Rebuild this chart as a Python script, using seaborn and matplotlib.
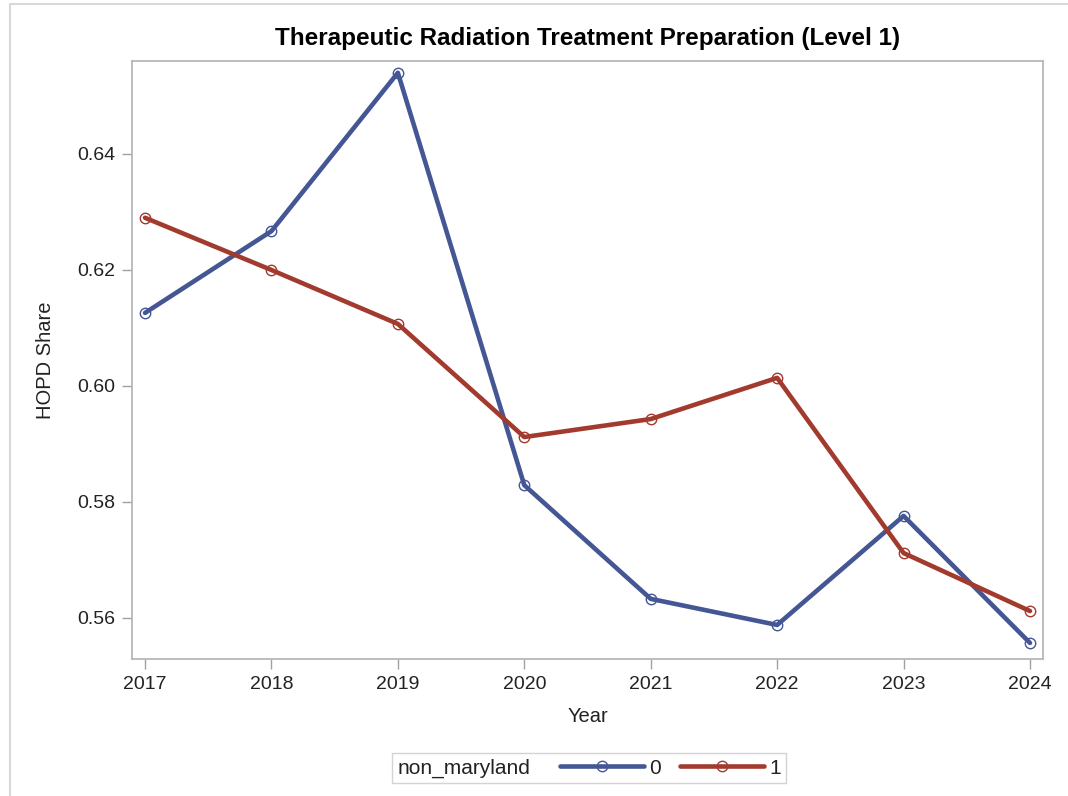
import matplotlib
matplotlib.use("Agg")
import matplotlib.pyplot as plt
import seaborn as sns
import pandas as pd
from matplotlib.patches import Rectangle
from matplotlib.lines import Line2D
from matplotlib.offsetbox import HPacker

years = [2017, 2018, 2019, 2020, 2021, 2022, 2023, 2024]
share_0 = [0.6126, 0.6267, 0.6540, 0.5829, 0.5633, 0.5588, 0.5776, 0.5557]
share_1 = [0.6290, 0.6200, 0.6107, 0.5912, 0.5943, 0.6014, 0.5712, 0.5612]
groups = ["0", "1"]
colors = ["#445694", "#A23A2E"]

df = pd.DataFrame({
    "Year": years * 2,
    "HOPD Share": share_0 + share_1,
    "non_maryland": [groups[0]] * len(years) + [groups[1]] * len(years),
})

sns.set_style("white")
plt.rcParams["font.family"] = ["Liberation Sans", "DejaVu Sans"]

fig = plt.figure(figsize=(10.68, 7.96), dpi=100)
ax = fig.add_axes([132 / 1068, 1 - 659 / 796, (1043 - 132) / 1068, (659 - 61) / 796])

sns.lineplot(data=df, x="Year", y="HOPD Share", hue="non_maryland",
             palette=dict(zip(groups, colors)), linewidth=3.3, marker="o",
             markersize=7.5, markerfacecolor="none", markeredgewidth=1.0,
             legend=False, ax=ax)
for line, c in zip(ax.lines, colors):
    line.set_markeredgecolor(c)

ax.set_xlim(2016.897, 2024.103)
ax.set_ylim(0.55293, 0.65603)
ax.set_xticks(years)
ax.set_xticklabels([str(y) for y in years])
ax.set_yticks([0.56, 0.58, 0.60, 0.62, 0.64])
ax.set_yticklabels(["0.56", "0.58", "0.60", "0.62", "0.64"])
ax.tick_params(axis="both", which="both", direction="out", length=7, width=1,
               color="#A0A0A0", labelsize=14, labelcolor="#222222", pad=5,
               bottom=True, left=True)
for s in ax.spines.values():
    s.set_color("#B4B8BC")
    s.set_linewidth(1.3)

ax.set_xlabel("Year", fontsize=14.5, color="#222222", labelpad=10)
ax.set_ylabel("HOPD Share", fontsize=14.5, color="#222222", labelpad=16)
ax.set_title("Therapeutic Radiation Treatment Preparation (Level 1)",
             fontsize=17.5, fontweight="bold", color="black", pad=11.5)

handles = [Line2D([], [], color=c, linewidth=3.3, marker="o", markersize=7.5,
                  markerfacecolor="none", markeredgecolor=c, markeredgewidth=1.0)
           for c in colors]
leg = fig.legend(handles, groups, title="non_maryland", ncol=2,
                 loc="center", bbox_to_anchor=(589 / 1068, 1 - 768 / 796),
                 frameon=True, fontsize=15, title_fontsize=15,
                 handlelength=4.0, handletextpad=0.25, columnspacing=0.95,
                 borderpad=0.25, fancybox=False, edgecolor="#C8C8C8")
leg.get_frame().set_linewidth(1.0)
leg.get_title().set_color("#222222")
for t in leg.get_texts():
    t.set_color("#222222")
fs = leg._fontsize
leg._legend_box = HPacker(pad=leg.borderpad * fs, sep=1.44 * fs, align="center",
                          children=[leg._legend_title_box, leg._legend_handle_box])
leg._legend_box.set_figure(fig)
leg._legend_box.set_offset(leg._findoffset)

fig.patches.append(Rectangle((10 / 1068, -0.05), 1.2, 1.05 - 4.5 / 796,
                             transform=fig.transFigure, fill=False,
                             edgecolor="#D8D8D8", linewidth=1.5))

fig.savefig("out.png", dpi=100, facecolor="white")
